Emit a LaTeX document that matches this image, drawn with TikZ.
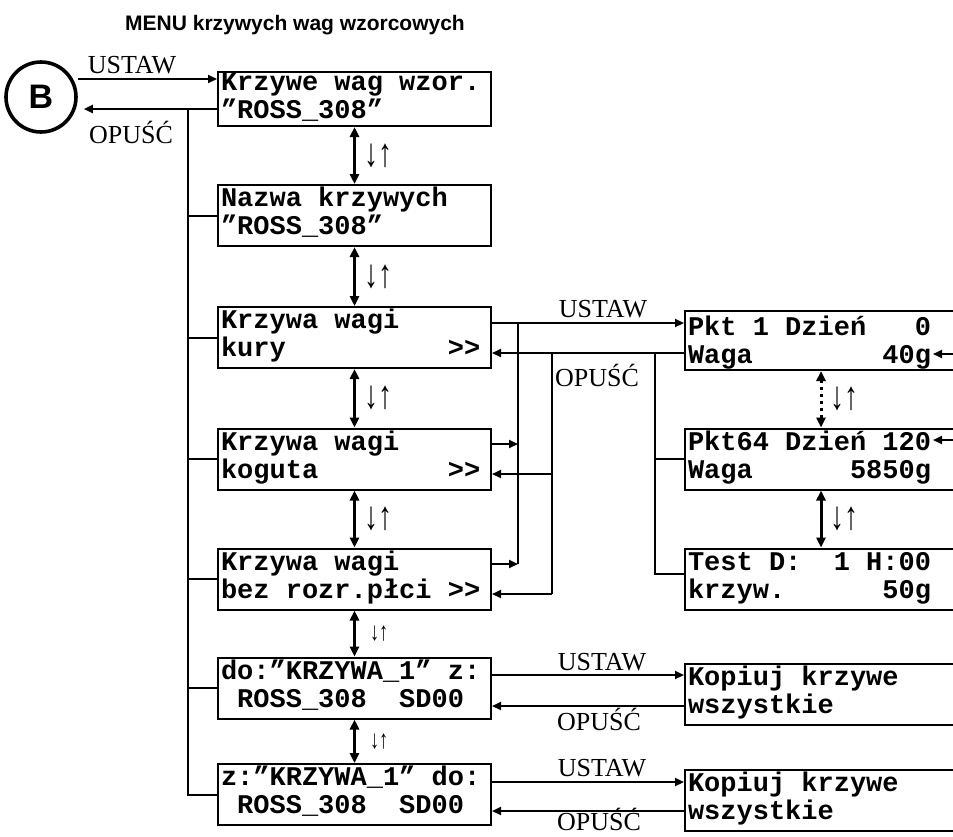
\documentclass[tikz,border=0pt]{standalone}
\usepackage{fontspec}
\usetikzlibrary{arrows.meta,calc}
\newfontfamily\lcdfam{Liberation Mono}[Ligatures=TeXOff]
\newfontfamily\armfam{Liberation Sans}
\newfontfamily\timfam{Liberation Serif}
% pole znaku wyswietlacza
\newlength\lcdcell
\setlength\lcdcell{8.1pt}
\newcommand\sk{\hspace*{\lcdcell}}
\newcommand\sks[1]{\hspace*{#1\lcdcell}}

\tikzset{
  lcd/.style={draw, line width=1pt, anchor=north west, inner xsep=1.5pt, inner ysep=0pt,
    minimum width=136.5pt, minimum height=30.5pt, text width=133.5pt, align=left,
    text height=8pt, text depth=17pt, font=\lcdfam\bfseries\fontsize{13.5}{14}\selectfont},
  rlcd/.style={lcd, minimum width=136pt, text width=133pt},
  lab/.style={font=\timfam\fontsize{13}{15}\selectfont, anchor=base, inner sep=0pt},
  conn/.style={line width=1pt},
  arr/.style={conn, -{Triangle[length=4.5pt,width=4pt]}},
  updown/.style={line width=1.5pt, {Triangle[length=5pt,width=4.5pt]}-{Triangle[length=5pt,width=4.5pt]}},
  udlab/.style={font=\timfam\fontsize{20}{20}\selectfont, inner sep=0pt, right=4pt},
  udsmall/.style={font=\timfam\fontsize{13}{13}\selectfont, inner sep=0pt, right=7pt},
}
\newcommand\updn{\scalebox{0.7}[1]{↓↑}}

\begin{document}
\begin{tikzpicture}[x=0.5pt,y=-0.5pt]
\useasboundingbox (0,0) rectangle (953,836);

% naglowek
\node[font=\armfam\bfseries\fontsize{10.5}{12}\selectfont] (title) at (295,25) {MENU krzywych wag wzorcowych};
\node[draw, circle, line width=1.8pt, minimum size=35pt, inner sep=0pt,
  font=\armfam\bfseries\fontsize{17}{17}\selectfont] (B) at (41,97) {B};

% menu glowne
\node[lcd, minimum height=27pt] (b1) at (217,71) {Krzywe\sk wag\sk wzor.\\”ROSS\_308”};
\node[lcd] (b2) at (217,184) {Nazwa\sk krzywych\\”ROSS\_308”};
\node[lcd] (b3) at (217,306) {Krzywa\sk wagi\\kury\sks{10}>>};
\node[lcd] (b4) at (217,427.5) {Krzywa\sk wagi\\koguta\sks{8}>>};
\node[lcd] (b5) at (217,547.5) {Krzywa\sk wagi\\bez\sk rozr.płci\sk >>};
\node[lcd] (b6) at (217,656.5) {do:”KRZYWA\_1”\sk z:\\\sk ROSS\_308\sks{2}SD00};
\node[lcd] (b7) at (217,763) {z:”KRZYWA\_1”\sk do:\\\sk ROSS\_308\sks{2}SD00};

% podmenu
\node[rlcd, minimum height=29.5pt, text height=12pt] (r1) at (684,310) {Pkt\sk 1\sk Dzień\sks{3}0\\Waga\sks{8}40g};
\node[rlcd] (r2) at (684,427.5) {Pkt64\sk Dzień\sk 120\\Waga\sks{6}5850g};
\node[rlcd] (r3) at (684,547.5) {Test\sk D:\sks{2}1\sk H:00\\krzyw.\sks{6}50g};
\node[rlcd] (k1) at (684,662.5) {Kopiuj\sk krzywe\\wszystkie};
\node[rlcd] (k2) at (684,769) {Kopiuj\sk krzywe\\wszystkie};

% napisy
\node[lab] (s0) at (132,73.5) {USTAW};
\node[lab] (q0) at (131,143) {OPUŚĆ};
\node[lab] (s3) at (603,317) {USTAW};
\node[lab] (q3) at (597,386) {OPUŚĆ};
\node[lab] (s6) at (602,670) {USTAW};
\node[lab] (q6) at (599,730) {OPUŚĆ};
\node[lab] (s7) at (602,776) {USTAW};
\node[lab] (q7) at (599,830) {OPUŚĆ};

% strzalki gora/dol
\draw[updown] (b1.south) -- (b2.north) node[midway, udlab] (ud1) {\updn};
\draw[updown] (b2.south) -- (b3.north) node[midway, udlab] (ud2) {\updn};
\draw[updown] (b3.south) -- (b4.north) node[midway, udlab] (ud3) {\updn};
\draw[updown] (b4.south) -- (b5.north) node[midway, udlab] (ud4) {\updn};
\draw[updown] (b5.south) -- (b6.north) node[midway, udsmall] (ud5) {\updn};
\draw[updown] (b6.south) -- (b7.north) node[midway, udsmall] (ud6) {\updn};
\draw[updown, dotted] (r1.south) -- (r2.north) node[midway, udlab] (ud7) {\updn};
\draw[updown] (r2.south) -- (r3.north) node[midway, udlab] (ud8) {\updn};

% szyny
\coordinate (trunk) at (188,0);
\coordinate (ubus) at (518,0);
\coordinate (obus) at (552,0);
\coordinate (rtrunk) at (655,0);

% wejscie / wyjscie B
\coordinate (u0) at ([yshift=9pt]B.east);
\coordinate (o0) at ([yshift=-5pt]b1.west);
\draw[arr] (u0) -- (u0 -| b1.west);
\draw[arr, shorten >=3pt] (o0) -- (o0 -| B.east);
\draw[conn] (o0 -| trunk) |- (b7.west);
\foreach \b in {b2,b3,b4,b5,b6}
  \draw[conn] (\b.west -| trunk) -- (\b.west);

% krzywe wagi
\coordinate (u3) at ([yshift=7.25pt]b3.east);
\coordinate (o3) at ([yshift=-6.25pt]r1.west);
\draw[arr] (u3) -- (u3 -| r1.west);
\draw[arr] (o3) -- (o3 -| b3.east);
\foreach \b in {b4,b5}{
  \coordinate (u\b) at ([yshift=7.5pt]\b.east);
  \coordinate (o\b) at ([yshift=-7.5pt]\b.east);
  \draw[arr] (u\b) -- (u\b -| ubus);
  \draw[arr] (o\b -| obus) -- (o\b);
}
\draw[conn] (u3 -| ubus) -- (ub5 -| ubus);
\draw[conn] (o3 -| obus) -- (ob5 -| obus);
\draw[conn] (o3 -| rtrunk) |- ([yshift=2.5pt]r3.west);
\draw[conn] (r2.west -| rtrunk) -- (r2.west);

\coordinate (e1) at (933,354);
\coordinate (e2) at (933,440);
\draw[arr] (e1 -| r1.east) -- (e1);
\draw[arr] (e2 -| r2.east) -- (e2);

% kopiowanie
\coordinate (u6) at ([yshift=6.5pt]b6.east);
\coordinate (o6) at ([yshift=-6pt]k1.west);
\coordinate (u7) at ([yshift=6.25pt]b7.east);
\coordinate (o7) at ([yshift=-5.25pt]k2.west);
\draw[arr] (u6) -- (u6 -| k1.west);
\draw[arr] (o6) -- (o6 -| b6.east);
\draw[arr] (u7) -- (u7 -| k2.west);
\draw[arr] (o7) -- (o7 -| b7.east);

\end{tikzpicture}
\end{document}
